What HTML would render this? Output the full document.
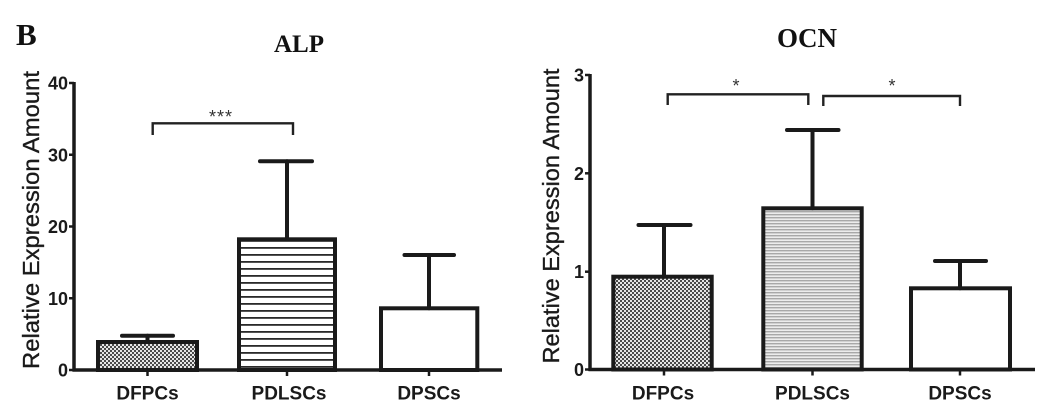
<!DOCTYPE html>
<html>
<head>
<meta charset="utf-8">
<style>
  html, body { margin: 0; padding: 0; background: #ffffff; }
  svg { display: block; }
  .tick { font-family: "Liberation Sans", Arial, sans-serif; font-weight: bold; font-size: 18px; fill: #1a1a1a; }
  .xl { font-family: "Liberation Sans", Arial, sans-serif; font-weight: bold; font-size: 19px; fill: #1a1a1a; }
  .yl { font-family: "Liberation Sans", Arial, sans-serif; font-size: 23px; fill: #1a1a1a; stroke: #1a1a1a; stroke-width: 0.35px; }
  .ttl { font-family: "Liberation Serif", "Times New Roman", serif; font-weight: bold; fill: #111; }
  .star { font-family: "Liberation Sans", Arial, sans-serif; font-size: 18px; fill: #333; }
</style>
</head>
<body>
<svg width="1060" height="414" viewBox="0 0 1060 414" xmlns="http://www.w3.org/2000/svg">
  <defs>
    <pattern id="chk" patternUnits="userSpaceOnUse" width="4" height="4">
      <rect x="0" y="0" width="4" height="4" fill="#e6e6e6"/>
      <rect x="0" y="0" width="2" height="2" fill="#4a4a4a"/>
      <rect x="2" y="2" width="2" height="2" fill="#4a4a4a"/>
    </pattern>
    <pattern id="hl" patternUnits="userSpaceOnUse" width="8" height="7">
      <rect x="0" y="0" width="8" height="7" fill="#ffffff"/>
      <rect x="0" y="2" width="8" height="1.8" fill="#2a2a2a"/>
    </pattern>
    <pattern id="hg" patternUnits="userSpaceOnUse" width="8" height="3">
      <rect x="0" y="0" width="8" height="3" fill="#ececec"/>
      <rect x="0" y="1" width="8" height="1.4" fill="#a8a8a8"/>
    </pattern>
  </defs>

  <rect width="1060" height="414" fill="#ffffff"/>

  <!-- Panel letter -->
  <text class="ttl" x="16" y="45" font-size="31">B</text>

  <!-- ================= LEFT: ALP ================= -->
  <text class="ttl" x="299" y="52" font-size="25" text-anchor="middle">ALP</text>

  <text class="yl" transform="translate(39,220) rotate(-90)" text-anchor="middle" textLength="298" lengthAdjust="spacingAndGlyphs">Relative Expression Amount</text>

  <!-- bars -->
  <rect x="98" y="342" width="99" height="28" fill="url(#chk)" stroke="#1a1a1a" stroke-width="4"/>
  <rect x="239" y="239.3" width="96" height="130.7" fill="url(#hl)" stroke="#1a1a1a" stroke-width="4"/>
  <rect x="381" y="308.3" width="96.3" height="61.7" fill="#ffffff" stroke="#1a1a1a" stroke-width="4"/>

  <!-- error bars -->
  <g stroke="#1a1a1a" stroke-width="4" stroke-linecap="round" fill="none">
    <line x1="147.5" y1="342" x2="147.5" y2="335.7"/>
    <line x1="122" y1="335.7" x2="173" y2="335.7"/>
    <line x1="287" y1="239.3" x2="287" y2="161.3"/>
    <line x1="260" y1="161.3" x2="312" y2="161.3"/>
    <line x1="429" y1="308.3" x2="429" y2="255"/>
    <line x1="404.5" y1="255" x2="454" y2="255"/>
  </g>

  <!-- axes -->
  <g stroke="#1a1a1a" stroke-width="3.5" fill="none">
    <line x1="74" y1="82" x2="74" y2="371.5"/>
    <line x1="72.5" y1="370" x2="502" y2="370"/>
  </g>
  <g stroke="#1a1a1a" stroke-width="2.5">
    <line x1="69" y1="83" x2="74" y2="83"/>
    <line x1="69" y1="154.75" x2="74" y2="154.75"/>
    <line x1="69" y1="226.5" x2="74" y2="226.5"/>
    <line x1="69" y1="298.25" x2="74" y2="298.25"/>
    <line x1="69" y1="370" x2="74" y2="370"/>
    <line x1="147.5" y1="370" x2="147.5" y2="376"/>
    <line x1="287" y1="370" x2="287" y2="376"/>
    <line x1="429" y1="370" x2="429" y2="376"/>
  </g>
  <g class="tick" text-anchor="end">
    <text x="68" y="89.5">40</text>
    <text x="68" y="161.25">30</text>
    <text x="68" y="233">20</text>
    <text x="68" y="304.75">10</text>
    <text x="68" y="376.5">0</text>
  </g>
  <g class="xl" text-anchor="middle">
    <text x="147.5" y="399.5">DFPCs</text>
    <text x="289" y="399.5">PDLSCs</text>
    <text x="429" y="399.5">DPSCs</text>
  </g>

  <!-- significance -->
  <path d="M152.7 135 V123.3 H293 V135" stroke="#222" stroke-width="2.4" fill="none"/>
  <text class="star" x="221" y="123" text-anchor="middle" letter-spacing="1">***</text>

  <!-- ================= RIGHT: OCN ================= -->
  <text class="ttl" x="807" y="47" font-size="27" text-anchor="middle">OCN</text>

  <text class="yl" transform="translate(559,216) rotate(-90)" text-anchor="middle" textLength="295" lengthAdjust="spacingAndGlyphs">Relative Expression Amount</text>

  <!-- bars -->
  <rect x="613.3" y="276.7" width="98.4" height="92.8" fill="url(#chk)" stroke="#1a1a1a" stroke-width="4"/>
  <rect x="763.3" y="208.3" width="98.4" height="161.2" fill="url(#hg)" stroke="#1a1a1a" stroke-width="4"/>
  <rect x="911" y="288.3" width="99" height="81.2" fill="#ffffff" stroke="#1a1a1a" stroke-width="4"/>

  <!-- error bars -->
  <g stroke="#1a1a1a" stroke-width="4" stroke-linecap="round" fill="none">
    <line x1="664" y1="276.7" x2="664" y2="225"/>
    <line x1="638.5" y1="225" x2="690.5" y2="225"/>
    <line x1="812.5" y1="208.3" x2="812.5" y2="130"/>
    <line x1="787" y1="130" x2="838.5" y2="130"/>
    <line x1="960" y1="288.3" x2="960" y2="261"/>
    <line x1="935" y1="261" x2="986" y2="261"/>
  </g>

  <!-- axes -->
  <g stroke="#1a1a1a" stroke-width="3.5" fill="none">
    <line x1="590" y1="74" x2="590" y2="371"/>
    <line x1="588.5" y1="369.5" x2="1035" y2="369.5"/>
  </g>
  <g stroke="#1a1a1a" stroke-width="2.5">
    <line x1="585" y1="75" x2="590" y2="75"/>
    <line x1="585" y1="173.3" x2="590" y2="173.3"/>
    <line x1="585" y1="271.7" x2="590" y2="271.7"/>
    <line x1="585" y1="369.5" x2="590" y2="369.5"/>
    <line x1="664" y1="369.5" x2="664" y2="375.5"/>
    <line x1="812.5" y1="369.5" x2="812.5" y2="375.5"/>
    <line x1="960" y1="369.5" x2="960" y2="375.5"/>
  </g>
  <g class="tick" text-anchor="end">
    <text x="584" y="81.5">3</text>
    <text x="584" y="179.8">2</text>
    <text x="584" y="278.2">1</text>
    <text x="584" y="376">0</text>
  </g>
  <g class="xl" text-anchor="middle">
    <text x="663" y="399.5">DFPCs</text>
    <text x="812.5" y="399.5">PDLSCs</text>
    <text x="960" y="399.5">DPSCs</text>
  </g>

  <!-- significance -->
  <path d="M667.7 105 V94.3 H808.3 V105" stroke="#222" stroke-width="2.4" fill="none"/>
  <path d="M823.3 106 V96 H960 V106" stroke="#222" stroke-width="2.4" fill="none"/>
  <text class="star" x="736" y="92" text-anchor="middle">*</text>
  <text class="star" x="892" y="92" text-anchor="middle">*</text>
</svg>
</body>
</html>
